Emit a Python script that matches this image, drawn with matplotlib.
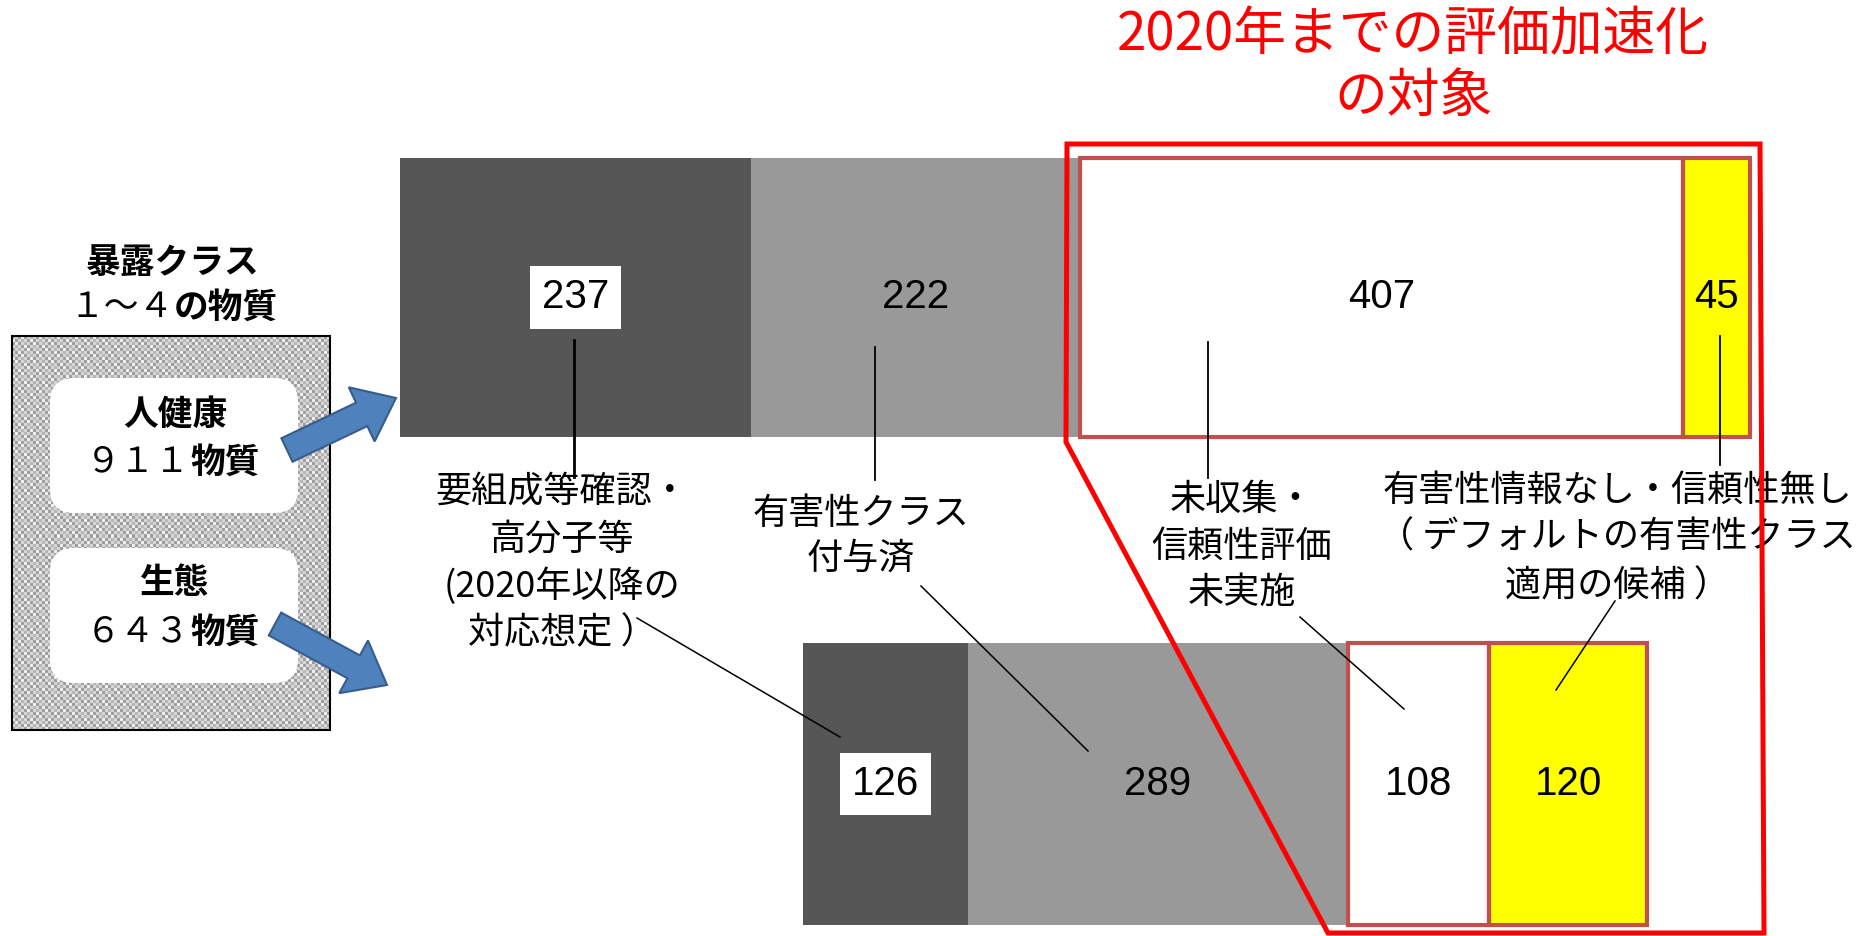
import numpy as np
import matplotlib
matplotlib.use('Agg')
import matplotlib.pyplot as plt
import matplotlib.patches as mpatches

# chart values
segments = ['要組成等確認・高分子等', '有害性クラス付与済',
            '未収集・信頼性評価未実施', '有害性情報なし・信頼性無し']
human_health = [237, 222, 407, 45]   # 911 substances
ecology = [126, 289, 108, 120]       # 643 substances
seg_colors = ['#565656', '#999999', '#ffffff', '#ffff00']
boxed_number = [True, False, False, False]
in_target = [False, False, True, True]

title_lines = ['2020年までの評価加速化', 'の対象']
label_lines = [['要組成等確認・', '高分子等', '(2020年以降の', '対応想定 ）'],
               ['有害性クラス', '付与済'],
               ['未収集・', '信頼性評価', '未実施'],
               ['有害性情報なし・信頼性無し', '（ デフォルトの有害性クラス', '適用の候補 ）']]

JP = ['Noto Sans CJK JP', 'DejaVu Sans']
NUM = ['Liberation Sans Narrow', 'Liberation Sans', 'DejaVu Sans']
BROWN = '#C0504D'

W, H = 1874, 936
fig = plt.figure(figsize=(W / 100, H / 100), dpi=100)


def fig_rect(x0, y0, x1, y1):
    # pixel box (top-left origin) -> figure fraction
    return [x0 / W, 1 - y1 / H, (x1 - x0) / W, (y1 - y0) / H]


def draw_bar(rect, values):
    ax = fig.add_axes(rect, zorder=1)
    lefts = np.concatenate([[0], np.cumsum(values)[:-1]])
    for i, (v, l) in enumerate(zip(values, lefts)):
        if in_target[i]:
            ax.barh(0.5, v, left=l, height=1, color=seg_colors[i],
                    edgecolor=BROWN, linewidth=3, clip_on=False)
        else:
            ax.barh(0.5, v, left=l, height=1, color=seg_colors[i],
                    linewidth=0, clip_on=False)
        # numbers in the dark boxes sit on a white label
        bbox = None
        if boxed_number[i]:
            bbox = dict(boxstyle='square,pad=0.3', fc='white', ec='none')
        ax.text(l + v / 2, 0.5, str(v), ha='center', va='center',
                fontsize=29, family=NUM, bbox=bbox)
    ax.set_xlim(0, sum(values))
    ax.set_ylim(0, 1)
    ax.axis('off')
    return ax


ax_top = draw_bar(fig_rect(400, 158, 1750, 437), human_health)
ax_bot = draw_bar(fig_rect(803, 643, 1647, 925), ecology)

# overlay in pixel coordinates for the diagram decorations
ov = fig.add_axes([0, 0, 1, 1], zorder=3)
ov.axis('off')

# patterned panel on the left
ny, nx = (730 - 336) // 3, (330 - 12) // 3
i, j = np.indices((ny, nx))
tex = 0.62 + 0.22 * ((i + j) % 2) + 0.1 * (((i // 2) + 2 * j) % 3 == 0)
ov.imshow(np.dstack([tex, tex, tex]), extent=(12, 330, 730, 336),
          interpolation='nearest', aspect='auto', zorder=1)
ov.add_patch(mpatches.Rectangle((12, 336), 318, 394, fill=False,
                                edgecolor='black', lw=1.5, zorder=2))
for y0 in [378, 548]:
    ov.add_patch(mpatches.FancyBboxPatch((50, y0), 248, 135,
                 boxstyle='round,pad=0,rounding_size=24',
                 fc='white', ec='none', zorder=3))

ov.text(173, 263, '暴露クラス', ha='center', va='center', fontsize=25,
        weight='bold', family=JP)
ov.text(174, 307, '１～４', ha='right', va='center', fontsize=25, family=JP)
ov.text(174, 307, 'の物質', ha='left', va='center', fontsize=25,
        weight='bold', family=JP)
ov.text(175, 414, '人健康', ha='center', va='center', fontsize=25,
        weight='bold', family=JP, zorder=4)
ov.text(190, 462, '９１１', ha='right', va='center', fontsize=25, family=JP, zorder=4)
ov.text(190, 462, '物質', ha='left', va='center', fontsize=25,
        weight='bold', family=JP, zorder=4)
ov.text(175, 583, '生態', ha='center', va='center', fontsize=25,
        weight='bold', family=JP, zorder=4)
ov.text(190, 632, '６４３', ha='right', va='center', fontsize=25, family=JP, zorder=4)
ov.text(190, 632, '物質', ha='left', va='center', fontsize=25,
        weight='bold', family=JP, zorder=4)

# blue arrows toward each bar
for (x, y, dx, dy) in [(287, 450, 109, -52), (275, 624, 112, 61)]:
    ov.add_patch(mpatches.FancyArrow(x, y, dx, dy, width=26, head_width=60,
                 head_length=38, length_includes_head=True,
                 fc='#4F81BD', ec='#385D8A', lw=1.5, zorder=5))

# red outline around the acceleration target
ov.add_patch(mpatches.Polygon([(1067, 144), (1760, 144), (1764, 933),
                               (1328, 933), (1066, 442)], closed=True,
                              fill=False, edgecolor='#ff0000', lw=3.6,
                              joinstyle='miter', zorder=4))
ov.text(1413, 35, title_lines[0], ha='center', va='center', fontsize=38,
        color='#ff0000', family=JP)
ov.text(1413, 96, title_lines[1], ha='center', va='center', fontsize=38,
        color='#ff0000', family=JP)

# category labels
label_pos = [(562, [492, 540, 586, 633]), (861, [514, 559]),
             (1242, [500, 547, 593]), (1617, [491, 538, 586])]
for (cx, ys), lines in zip(label_pos, label_lines):
    for y, s in zip(ys, lines):
        ov.text(cx, y, s, ha='center', va='center', fontsize=26, family=JP)

# leader lines
leaders = [((574, 340), (574, 477), 2.0), ((875, 347), (875, 480), 1.3),
           ((1208, 342), (1208, 478), 1.3), ((1720, 336), (1720, 465), 1.3),
           ((637, 618), (840, 737), 1.1), ((921, 586), (1088, 751), 1.1),
           ((1300, 617), (1404, 709), 1.1), ((1615, 601), (1556, 690), 1.1)]
for (x0, y0), (x1, y1), lw in leaders:
    ov.plot([x0, x1], [y0, y1], color='black', lw=lw, zorder=6)

ov.set_xlim(0, W)
ov.set_ylim(H, 0)

fig.savefig('out.png', dpi=100, facecolor='white')
